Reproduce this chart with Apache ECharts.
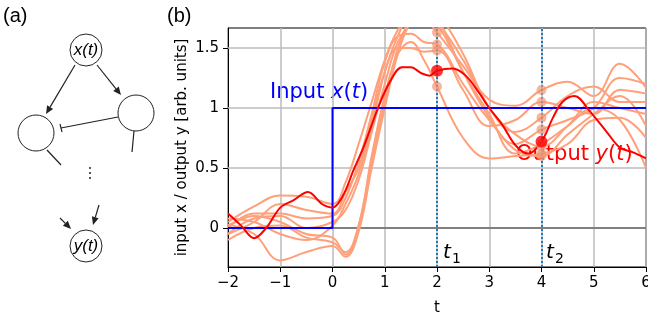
<!DOCTYPE html>
<html>
<head>
<meta charset="utf-8">
<script src="https://cdn.jsdelivr.net/npm/echarts@6/dist/echarts.min.js"></script>
<style>
  html, body { margin: 0; padding: 0; background: #fff; }
  #chart { width: 648px; height: 320px; }
</style>
</head>
<body>
<div id="chart"></div>
<script>
// sample times shared by the ensemble curves
const tGrid = [-2, -1.5, -1, -0.5, 0, 0.25, 0.5, 0.75, 1, 1.25, 1.5, 1.75, 2, 2.5, 3, 3.5, 4, 4.5, 5, 5.5, 6];

// light curves: individual responses
const runs = [
  [0.05, 0.18, 0.27, 0.26, 0.2, 0.38, 0.7, 1.05, 1.4, 1.65, 1.78, 1.75, 1.63, 1.35, 1.07, 1.02, 1.15, 1.22, 1.1, 1.37, 1.17],
  [-0.1, 0.0, 0.02, -0.08, -0.12, -0.2, 0.02, 0.55, 1.05, 1.5, 1.75, 1.85, 1.8, 1.45, 1.0, 0.8, 0.92, 1.1, 1.18, 1.05, 1.05],
  [0.0, 0.12, 0.12, 0.08, 0.1, 0.25, 0.55, 0.95, 1.38, 1.6, 1.62, 1.55, 1.53, 1.2, 0.9, 0.7, 0.82, 0.9, 1.0, 1.25, 1.2],
  [0.03, -0.05, -0.27, -0.2, -0.15, -0.24, -0.03, 0.5, 1.0, 1.45, 1.72, 1.8, 1.75, 1.3, 0.92, 0.65, 0.6, 0.78, 0.95, 1.1, 0.85],
  [-0.05, 0.05, 0.2, 0.15, 0.12, 0.3, 0.5, 0.9, 1.3, 1.5, 1.5, 1.47, 1.48, 1.15, 0.85, 0.9, 1.05, 1.0, 0.95, 1.15, 1.12],
  [0.02, 0.1, 0.05, -0.05, -0.08, -0.22, 0.02, 0.6, 1.1, 1.45, 1.55, 1.4, 1.18, 0.75, 0.58, 0.6, 0.62, 0.7, 0.9, 0.92, 0.75],
  [0.08, 0.05, -0.05, -0.1, 0.02, 0.2, 0.45, 0.85, 1.3, 1.6, 1.78, 1.8, 1.72, 1.4, 1.0, 0.78, 0.68, 0.85, 1.05, 1.0, 0.95],
  [-0.05, 0.08, 0.1, 0.0, 0.05, 0.15, 0.4, 0.8, 1.2, 1.55, 1.7, 1.75, 1.7, 1.3, 0.95, 0.62, 0.7, 0.85, 1.0, 0.9, 0.5]
];

// output y(t)
const outT = [-2, -1.75, -1.5, -1.27, -1, -0.75, -0.47, -0.2, 0, 0.2, 0.4, 0.6, 0.87, 1.1, 1.33, 1.5, 1.7, 1.86, 2, 2.3, 2.55, 2.8, 3, 3.25, 3.5, 3.75, 4, 4.22, 4.4, 4.63, 4.93, 5.25, 5.5, 5.75, 6];
const outY = [0.12, 0.02, -0.085, 0, 0.17, 0.23, 0.3, 0.2, 0.17, 0.27, 0.48, 0.68, 1.0, 1.22, 1.34, 1.34, 1.29, 1.27, 1.31, 1.33, 1.27, 1.13, 1.0, 0.86, 0.69, 0.62, 0.72, 0.92, 1.05, 1.1, 0.97, 0.8, 0.67, 0.63, 0.58];

// input x(t): step at t = 0
const inT = [-2, 0, 0, 6];
const inX = [0, 0, 1, 1];

const sampleTimes = [2, 4];
const yTicks = [0, 0.5, 1, 1.5];
const yGrid = [0.5, 1, 1.5];

const font = 'DejaVu Sans';
const salmon = '#ffa07a';
const fmt = (v) => (v < 0 ? '\u2212' + -v : String(v));

const chart = echarts.init(document.getElementById('chart'));

const series = runs.map((r) => ({
  type: 'line',
  data: tGrid.map((t, i) => [t, r[i]]),
  smooth: 0.4,
  showSymbol: false,
  lineStyle: { color: salmon, width: 2 },
  z: 2
}));

series.push({
  type: 'line',
  data: [],
  silent: true,
  markLine: {
    silent: true, symbol: ['none', 'none'], label: { show: false }, z: 1,
    lineStyle: { color: '#bbbbbb', width: 1.5, type: 'solid' },
    data: yGrid.map((v) => ({ yAxis: v }))
  }
});
series.push({
  type: 'line',
  data: [],
  silent: true,
  markLine: {
    silent: true, symbol: ['none', 'none'], label: { show: false }, z: 1,
    lineStyle: { color: '#808080', width: 2, type: 'solid' },
    data: [{ yAxis: 0 }]
  }
});
series.push({
  type: 'line',
  data: inT.map((t, i) => [t, inX[i]]),
  showSymbol: false,
  lineStyle: { color: '#0000ff', width: 2 },
  z: 3
});
series.push({
  type: 'line',
  data: outT.map((t, i) => [t, outY[i]]),
  smooth: 0.35,
  showSymbol: false,
  lineStyle: { color: '#ff0000', width: 2 },
  z: 4,
  markLine: {
    silent: true, symbol: ['none', 'none'], label: { show: false }, z: 5,
    lineStyle: { color: '#1f77b4', width: 2, type: 'dotted' },
    data: sampleTimes.map((t) => ({ xAxis: t }))
  }
});
series.push({
  type: 'scatter',
  data: sampleTimes.flatMap((t) => runs.map((r) => [t, r[tGrid.indexOf(t)]])),
  symbolSize: 10,
  itemStyle: { color: 'rgba(240,150,115,0.85)' },
  z: 6
});
series.push({
  type: 'scatter',
  data: sampleTimes.map((t) => [t, outY[outT.indexOf(t)]]),
  symbolSize: 12,
  itemStyle: { color: '#ff0000' },
  z: 7
});

// panel (a): network sketch
const ink = '#222';
const seg = (x1, y1, x2, y2) => ({ type: 'line', shape: { x1, y1, x2, y2 }, style: { stroke: ink, lineWidth: 1.2 } });
function arrow(x1, y1, x2, y2) {
  const a = Math.atan2(y2 - y1, x2 - x1), L = 8, W = 3.5;
  const bx = x2 - L * Math.cos(a), by = y2 - L * Math.sin(a);
  return [seg(x1, y1, bx, by), {
    type: 'polygon',
    shape: { points: [[x2, y2], [bx + W * Math.sin(a), by - W * Math.cos(a)], [bx - W * Math.sin(a), by + W * Math.cos(a)]] },
    style: { fill: ink }
  }];
}
const node = (cx, cy, r) => ({ type: 'circle', shape: { cx, cy, r }, style: { fill: '#fff', stroke: ink, lineWidth: 1 } });

const graphic = [
  { type: 'text', x: 3, y: 16, style: { text: '(a)', fill: '#000', font: '20px Liberation Sans', verticalAlign: 'middle' } },
  { type: 'text', x: 167, y: 16, style: { text: '(b)', fill: '#000', font: '20px Liberation Sans', verticalAlign: 'middle' } },
  ...arrow(75, 65, 46, 114),
  ...arrow(97, 65, 121, 95),
  seg(118, 117, 61, 128),
  seg(60, 124, 62, 132),
  node(86, 50, 16),
  node(36, 133, 18),
  node(136, 113, 18),
  seg(47, 150, 61, 165),
  seg(134, 131, 132, 152),
  { type: 'circle', shape: { cx: 90, cy: 168, r: 1 }, style: { fill: ink } },
  { type: 'circle', shape: { cx: 90, cy: 173, r: 1 }, style: { fill: ink } },
  { type: 'circle', shape: { cx: 90, cy: 178, r: 1 }, style: { fill: ink } },
  ...arrow(60, 218, 71, 229),
  ...arrow(99, 205, 93, 225),
  node(86, 246, 16),
  { type: 'text', x: 86, y: 50, style: { text: 'x(t)', fill: '#000', font: 'italic 17px Liberation Sans', align: 'center', verticalAlign: 'middle' } },
  { type: 'text', x: 86, y: 246, style: { text: 'y(t)', fill: '#000', font: 'italic 17px Liberation Sans', align: 'center', verticalAlign: 'middle' } },
  // panel (b) annotations
  {
    type: 'text', x: 270, y: 93,
    style: {
      text: '{n|Input }{i|x}{n|(}{i|t}{n|)}', fill: '#0000ff', verticalAlign: 'middle',
      rich: { n: { font: '21px ' + font, fill: '#0000ff' }, i: { font: 'italic 21px ' + font, fill: '#0000ff' } }
    }
  },
  {
    type: 'text', x: 516, y: 155,
    style: {
      text: '{n|Output }{i|y}{n|(}{i|t}{n|)}', fill: '#ff0000', verticalAlign: 'middle',
      rich: { n: { font: '21px ' + font, fill: '#ff0000' }, i: { font: 'italic 21px ' + font, fill: '#ff0000' } }
    }
  },
  { type: 'text', x: 443, y: 253, style: { text: 't', fill: '#000', font: 'italic 20px ' + font, verticalAlign: 'middle' } },
  { type: 'text', x: 452, y: 259, style: { text: '1', fill: '#000', font: '14px ' + font, verticalAlign: 'middle' } },
  { type: 'text', x: 546, y: 253, style: { text: 't', fill: '#000', font: 'italic 20px ' + font, verticalAlign: 'middle' } },
  { type: 'text', x: 555, y: 259, style: { text: '2', fill: '#000', font: '14px ' + font, verticalAlign: 'middle' } }
];

chart.setOption({
  animation: false,
  textStyle: { fontFamily: font },
  grid: {
    left: 228, right: 2, top: 28, bottom: 53, outerBoundsMode: 'none',
    show: true, borderColor: '#000', borderWidth: 1, backgroundColor: 'transparent'
  },
  xAxis: {
    type: 'value', min: -2, max: 6, interval: 1,
    name: 't', nameLocation: 'middle', nameGap: 34, nameMoveOverlap: false,
    nameTextStyle: { color: '#000', fontSize: 15, fontFamily: font },
    axisLine: { onZero: false, lineStyle: { color: '#000', width: 1 } },
    axisTick: { show: true, length: 5, lineStyle: { color: '#000' } },
    axisLabel: { color: '#000', fontSize: 15, fontFamily: font, margin: 9, formatter: fmt },
    splitLine: { show: true, lineStyle: { color: '#bbbbbb', width: 1.5 } }
  },
  yAxis: {
    type: 'value', min: -0.325, max: 1.667,
    name: 'input x / output y [arb. units]', nameLocation: 'middle', nameGap: 38, nameMoveOverlap: false,
    nameTextStyle: { color: '#000', fontSize: 15, fontFamily: font },
    axisLine: { show: true, onZero: false, lineStyle: { color: '#000', width: 1 } },
    axisTick: { show: true, length: 5, lineStyle: { color: '#000' }, customValues: yTicks },
    axisLabel: { color: '#000', fontSize: 15, fontFamily: font, margin: 9, customValues: yTicks, formatter: fmt },
    splitLine: { show: false }
  },
  graphic,
  series
});
</script>
</body>
</html>
